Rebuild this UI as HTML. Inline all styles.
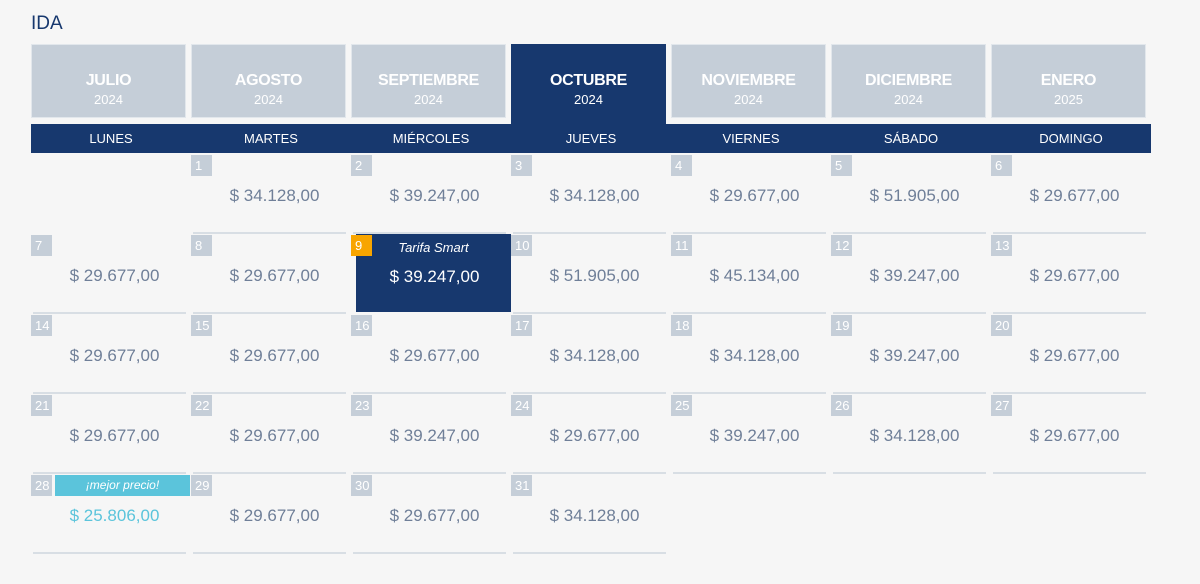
<!DOCTYPE html>
<html><head><meta charset="utf-8">
<style>
html,body{margin:0;padding:0;background:#f6f6f6;width:1200px;height:584px;overflow:hidden;font-family:"Liberation Sans",sans-serif;}
#root{position:relative;width:1200px;height:584px;}
.title{position:absolute;left:31px;top:13px;font-size:19px;color:#17386e;}
.tab{position:absolute;top:44px;width:155px;height:74px;background:#c5ced8;color:#fff;text-align:center;box-sizing:border-box;border:1px solid #e2e7ec;}
.tab .m{font-weight:bold;font-size:16px;margin-top:27px;letter-spacing:-0.3px;}
.tab .y{font-size:13px;margin-top:2px;}
.tab.active{background:#17386e;height:81px;border:none;}
.tab.active .m{margin-top:28px;}
.hdr{position:absolute;left:31px;top:124px;width:1120px;height:29px;background:#17386e;}
.wd{position:absolute;top:0;width:160px;height:29px;line-height:30px;text-align:center;color:#fff;font-size:13px;}
.cell{position:absolute;width:155px;height:80px;}
.line{position:absolute;left:2px;right:0;bottom:0;height:2px;background:#d8dee4;}
.num{position:absolute;left:0;top:1px;width:21px;height:21px;background:#c5ced8;color:#fff;font-size:13px;line-height:21px;text-indent:4px;}
.price{position:absolute;left:12px;right:0;top:32px;text-align:center;font-size:17px;color:#6f7f98;}
.sel{position:absolute;left:5px;top:0;width:155px;height:78px;background:#17386e;}
.sel .price{color:#fff;top:33px;left:2px;}
.smart{position:absolute;left:0;right:0;top:6px;text-align:center;color:#fff;font-style:italic;font-size:13px;}
.best{position:absolute;left:24px;top:1px;width:135px;height:21px;background:#5bc4db;color:#fff;font-style:italic;font-size:12px;line-height:21px;text-align:center;}
</style></head>
<body><div id="root">
<div class="title">IDA</div>
<div id="tabs"></div>
<div class="hdr" id="hdr"></div>
<div id="grid"></div>
</div>
<script>
const months=["JULIO","AGOSTO","SEPTIEMBRE","OCTUBRE","NOVIEMBRE","DICIEMBRE","ENERO"];
const years=["2024","2024","2024","2024","2024","2024","2025"];
const activeMonth=3;
const weekdays=["LUNES","MARTES","MIÉRCOLES","JUEVES","VIERNES","SÁBADO","DOMINGO"];
const days=[1,2,3,4,5,6,7,8,9,10,11,12,13,14,15,16,17,18,19,20,21,22,23,24,25,26,27,28,29,30,31];
const prices=["34.128,00","39.247,00","34.128,00","29.677,00","51.905,00","29.677,00","29.677,00","29.677,00","39.247,00","51.905,00","45.134,00","39.247,00","29.677,00","29.677,00","29.677,00","29.677,00","34.128,00","34.128,00","39.247,00","29.677,00","29.677,00","29.677,00","39.247,00","29.677,00","39.247,00","34.128,00","29.677,00","25.806,00","29.677,00","29.677,00","34.128,00"];
const startCol=1;
const smartDay=9;
const bestDay=28;

const tabs=document.getElementById('tabs');
months.forEach((m,i)=>{
  const t=document.createElement('div');
  t.className='tab'+(i===activeMonth?' active':'');
  t.style.left=(31+160*i)+'px';
  
  
  t.innerHTML='<div class="m">'+m+'</div><div class="y">'+years[i]+'</div>';
  tabs.appendChild(t);
});
const hdr=document.getElementById('hdr');
weekdays.forEach((w,i)=>{
  const d=document.createElement('div');
  d.className='wd';d.style.left=(160*i)+'px';d.textContent=w;
  
  
  hdr.appendChild(d);
});
const grid=document.getElementById('grid');
days.forEach((day,i)=>{
  const pos=i+startCol;
  const col=pos%7,row=Math.floor(pos/7);
  const c=document.createElement('div');
  c.className='cell';
  c.style.left=(31+160*col)+'px';
  c.style.top=(154+80*row)+'px';
  
  
  let html='';
  if(day===smartDay){
    html+='<div class="sel"><div class="smart">Tarifa Smart</div><div class="price">$ '+prices[i]+'</div></div>';
    html+='<div class="num" style="background:#f8a500">'+day+'</div>';
  } else {
    html+='<div class="line"></div><div class="num">'+day+'</div>';
    if(day===bestDay) html+='<div class="best">¡mejor precio!</div>';
    html+='<div class="price"'+(day===bestDay?' style="color:#5bc4db"':'')+'>$ '+prices[i]+'</div>';
  }
  c.innerHTML=html;
  grid.appendChild(c);
});
</script>
</body></html>
